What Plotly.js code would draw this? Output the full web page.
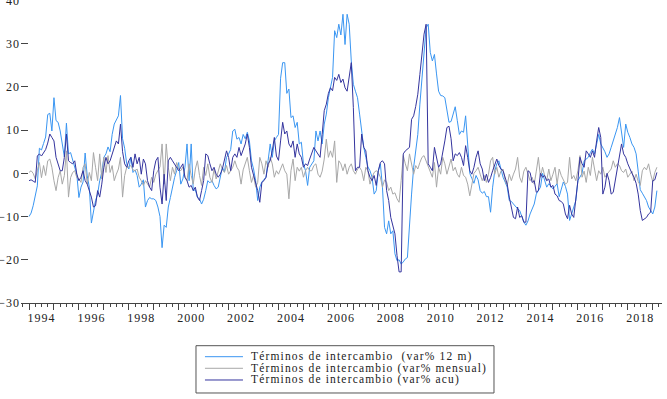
<!DOCTYPE html>
<html>
<head>
<meta charset="utf-8">
<script src="https://cdn.plot.ly/plotly-3.0.1.min.js"></script>
<style>
  html, body { margin: 0; padding: 0; background: #fff; }
  #chart { width: 667px; height: 399px; }
  .ytick text, .xtick text { letter-spacing: 1px; }
  .annotation-text { letter-spacing: 1.17px; white-space: pre; }
</style>
</head>
<body>
<div id="chart"></div>
<script>
// Monthly observations, January 1994 – March 2019
const startYear = 1994;

// Términos de intercambio, variación % 12 meses
const var12m = [
  -10.0, -9.2, -7.5, -5.3, -2.9, 5.8, 5.4, 6.9, 8.4, 13.6, 13.9, 9.8,      // 1994
  17.5, 12.2, 11.8, 9.8, 6.8, 3.8, 11.6, 4.5, 4.8, 2.9, 1.4, -0.3,         // 1995
  -5.6, -3.2, -2.0, 4.7, -0.6, -3.2, -11.5, -8.6, -6.3, -4.8, -1.7, 0.2,   // 1996
  3.7, 4.5, 6.1, 5.0, 9.0, 11.4, 12.2, 13.3, 18.0, 8.0, 5.8, 2.2,          // 1997
  1.0, 3.7, 0.2, 0.8, -0.5, -3.2, -2.5, -1.5, -7.8, -6.3, -5.6, -5.9,      // 1998
  -5.9, -6.3, -7.8, -10.0, -17.2, -12.0, -12.5, -7.8, -5.6, -3.2, -1.0, 0.6, // 1999
  2.5, -2.5, -1.3, 1.4, 6.8, -1.7, 6.8, -4.0, -3.8, -5.5, -5.9, -7.1,      // 2000
  -6.0, -4.0, -1.7, -2.2, -1.7, -2.8, -3.6, -3.2, -0.9, 1.4, 0.3, 3.7,     // 2001
  4.5, 5.5, 9.8, 10.2, 7.9, 8.3, 6.8, 9.0, 8.0, 9.5, 7.5, 2.9,             // 2002
  1.0, -1.7, -6.3, -3.2, -2.0, -1.3, -0.9, 3.0, 6.8, 3.7, 7.5, 8.3,        // 2003
  9.0, 22.0, 25.6, 25.6, 18.5, 19.5, 12.9, 13.3, 10.6, 11.8, 6.8, 7.2,     // 2004
  2.2, 0.6, -2.8, 1.4, 2.2, 2.9, 9.8, 7.5, 9.8, 6.8, 11.4, 13.7,           // 2005
  17.5, 19.8, 22.2, 33.0, 31.4, 34.5, 32.0, 36.8, 29.8, 36.8, 34.5, 26.0,  // 2006
  20.6, 19.0, 17.5, 13.7, 9.0, 6.0, 3.7, 1.5, 0.6, -0.9, -4.8, -4.0,       // 2007
  0.5, 2.2, -3.2, -12.5, -14.0, -11.0, -14.0, -13.3, -18.6, -20.2, -20.0, -21.0, // 2008
  -20.5, -19.8, -19.5, -11.0, -4.8, 1.4, 5.0, 9.0, 16.0, 22.2, 27.5, 33.7, // 2009
  34.5, 28.0, 26.0, 27.5, 23.0, 19.0, 18.0, 17.9, 17.5, 15.0, 11.8, 12.0,  // 2010
  13.7, 15.4, 12.2, 9.0, 9.8, 9.5, 13.3, 6.5, 0.0, -1.2, -2.3, -0.5,       // 2011
  -1.5, -4.0, -4.6, -4.2, -5.4, -5.4, -9.0, -3.2, 0.5, 2.2, 2.9, 1.0,      // 2012
  -0.9, -2.0, -3.2, -6.3, -6.5, -7.1, -7.8, -8.2, -8.6, -10.0, -11.3, -12.0, // 2013
  -11.0, -9.4, -8.0, -7.1, -4.8, -4.0, -3.2, 0.0, -1.5, -3.2, -2.4, -3.0,  // 2014
  -3.6, -3.0, -2.4, -5.4, -3.5, -2.0, -3.0, -4.8, -10.9, -9.4, -8.0, -6.3, // 2015
  -1.7, -0.8, 0.0, 2.9, 3.2, 3.7, 4.8, 5.6, 4.5, 7.0, 9.0, 6.8,            // 2016
  6.0, 5.0, 3.7, 4.5, 6.0, 7.5, 9.0, 10.6, 12.9, 9.0, 6.0, 11.4,           // 2017
  9.5, 8.3, 6.8, 6.0, 4.5, 0.5, -3.8, -4.6, -5.5, -6.3, -7.8, -8.6,        // 2018
  -9.4, -7.8, -4.0                                                         // 2019
];

// Términos de intercambio, variación % mensual
const varMensual = [
  0.2, 0.6, 0.0, -1.3, 0.6, 2.5, -1.0, 1.8, -0.5, 2.9, 3.3, 1.4,           // 1994
  -1.7, -4.0, -1.0, 0.6, -2.5, -0.5, 5.2, -5.5, -1.0, 0.2, 0.6, -1.0,      // 1995
  -1.3, -2.1, 1.4, 2.2, -2.5, 0.2, -1.7, 4.8, 1.4, -1.7, 4.5, -1.3,        // 1996
  3.7, 0.2, 4.1, 0.2, 1.8, -1.7, -0.2, 1.0, 3.7, -5.5, -0.5, 1.4,          // 1997
  1.4, 1.8, 0.8, 0.6, 1.0, -0.9, -1.7, -2.8, -1.7, -2.5, -3.2, -0.9,       // 1998
  -2.1, -0.2, 0.6, 1.5, 6.8, -2.5, 6.8, 1.4, -1.7, 1.4, -0.2, 2.5,         // 1999
  1.0, 0.6, 1.5, -0.9, -1.7, 2.2, -0.5, -2.5, 1.0, 2.9, -0.5, -2.8,        // 2000
  1.4, -0.5, 2.2, -0.9, -2.1, 1.0, -1.3, 0.6, 2.2, 1.0, 0.2, 1.8,          // 2001
  -0.2, 0.6, 1.4, 2.9, 1.4, 0.6, -2.5, 0.8, 2.2, 3.7, 0.6, -2.1,           // 2002
  -0.5, -3.2, -2.1, 3.7, 2.2, -0.2, 2.9, 1.4, 3.7, 2.2, -0.9, 0.6,         // 2003
  -0.2, 1.0, 2.2, 0.6, -0.2, -5.9, 0.6, 3.3, -1.7, 1.4, 0.5, 1.4,          // 2004
  -0.9, 0.6, 1.4, 0.6, 0.6, 1.8, 2.2, -0.2, -0.9, 0.5, 3.3, 7.9,           // 2005
  3.7, 5.2, 3.7, 7.5, -2.1, 2.9, 2.2, 0.6, 2.2, -0.2, 1.4, 2.2,            // 2006
  0.6, -0.2, 1.0, 1.4, 0.6, -1.7, 1.4, 0.6, -2.5, -0.9, 0.2, 0.6,          // 2007
  0.2, -0.9, -3.2, -1.5, -2.1, -4.0, -3.2, -4.8, -4.5, -5.9, -6.7, -1.7,   // 2008
  4.1, 2.2, 0.6, 4.5, 1.8, -0.2, 1.8, 1.0, 2.5, 3.7, 4.1, 2.9,             // 2009
  1.4, 0.6, -0.9, 2.5, -3.2, 1.4, -0.2, 3.7, 2.2, -0.2, 1.4, 3.3,          // 2010
  0.6, 1.4, -0.2, -0.9, 1.4, -0.5, -0.9, -2.5, -5.2, -2.1, 0.0, 0.6,       // 2011
  1.4, -0.2, -1.7, -0.5, -2.1, -0.2, 2.9, 3.7, -0.2, 1.4, -0.9, 0.5,       // 2012
  1.0, -1.7, -2.8, -0.2, -1.7, -0.2, 1.0, 3.7, -0.9, -2.1, 0.5, 1.4,       // 2013
  -0.2, -1.7, -0.9, -2.5, 0.5, 3.7, -0.9, 1.4, -0.5, -1.7, 1.0, -1.7,      // 2014
  -0.2, 1.4, -2.5, 1.0, -0.5, -1.7, -2.5, -2.1, 3.7, -1.3, -0.5, -1.7,     // 2015
  0.6, 4.1, -0.9, 0.5, -2.1, 1.4, -0.5, 3.7, 0.5, -1.7, 0.6, -0.2,         // 2016
  1.4, -0.9, -0.2, 0.5, 1.0, 2.9, 1.4, 2.2, 1.8, 0.6, 0.2, 1.0,            // 2017
  -0.9, -0.2, 0.5, -1.7, -0.2, -1.9, -2.8, 0.6, 1.4, 0.8, 2.2, -0.2,       // 2018
  -1.9, 0.2, 1.4                                                           // 2019
];

// Términos de intercambio, variación % acumulada en el año
const varAcu = [
  -1.7, -1.5, -1.8, -2.1, 4.0, 4.5, 4.0, 4.8, 5.5, 7.0, 9.1, 8.3,          // 1994
  7.5, 3.7, 2.2, 0.6, 0.6, 3.7, 9.1, 2.9, 2.5, 2.2, 2.9, -0.2,             // 1995
  -1.7, -0.9, 0.6, -1.7, -2.5, -4.0, -5.5, -7.8, -7.5, -4.0, -5.5, -2.5,   // 1996
  1.4, 3.7, 2.2, 2.9, 4.5, 6.0, 7.5, 6.8, 11.4, 5.0, 2.2, 1.4,             // 1997
  2.9, 3.7, 1.4, 4.5, 2.2, 3.7, -0.2, 3.3, 2.2, -1.7, -3.2, -4.0,          // 1998
  0.6, 2.9, 3.7, -3.2, -7.1, -0.2, -6.3, 2.9, 3.7, 2.9, 2.2, 1.4,          // 1999
  0.6, 1.4, 2.2, -0.9, -1.7, -3.2, -2.8, -4.0, -3.2, -5.5, -6.3, -4.0,     // 2000
  -1.7, 4.5, 4.1, 2.2, 0.6, 1.4, -0.2, -0.9, -0.2, 1.0, 3.3, 5.2,          // 2001
  3.7, 0.6, 3.7, 4.5, 3.7, 6.0, 4.1, 5.5, 6.8, 9.1, 6.0, 1.4,              // 2002
  -0.5, -1.7, -4.0, -6.7, -2.1, -1.7, -0.9, 2.2, 2.9, 5.2, 8.3, 4.0,       // 2003
  3.0, 7.5, 11.8, 9.1, 9.8, 6.8, 6.0, 7.5, 3.7, 6.8, 4.5, 3.7,             // 2004
  1.4, 2.2, 1.8, 3.3, 4.5, 6.0, 5.2, 4.5, 3.7, 9.0, 14.5, 16.0,            // 2005
  18.5, 19.8, 19.1, 22.2, 21.5, 22.9, 21.0, 21.8, 19.8, 19.0, 22.2, 25.6,  // 2006
  15.2, 0.6, 1.4, 1.4, 9.1, 6.0, 5.2, 0.6, -0.9, -1.7, -0.5, -2.8,         // 2007
  0.6, 2.5, 2.9, 2.2, -4.0, -6.3, -10.2, -12.5, -14.0, -19.0, -22.8, -22.8, // 2008
  4.5, 5.2, 5.6, 6.0, 12.5, 13.3, 15.5, 18.3, 22.9, 28.3, 32.2, 34.5,      // 2009
  2.2, 1.4, 0.6, 6.0, 3.7, 1.4, 2.2, 4.5, 7.5, 10.6, 10.9, 8.0,            // 2010
  2.9, 4.5, 4.1, 4.8, 3.7, 1.8, 6.4, 3.7, 0.6, -0.2, 1.4, 3.7,             // 2011
  5.2, 2.2, 1.0, -1.7, -0.2, -2.1, -1.0, 0.6, 2.2, 3.3, 1.8, 1.0,          // 2012
  0.6, -1.0, -2.5, -5.5, -7.8, -10.2, -10.5, -7.8, -10.2, -9.8, -11.3, -11.3, // 2013
  0.6, 0.2, -2.1, -1.7, -4.4, -4.0, 0.0, -0.9, -0.5, -1.7, -1.3, -3.2,     // 2014
  -2.8, -4.8, -5.2, -6.3, -6.5, -7.1, -9.4, -10.5, -7.4, -9.4, -10.2, -6.3, // 2015
  -1.7, 3.7, 2.2, 1.4, 5.2, 4.5, 3.7, 5.2, 3.7, 7.5, 10.6, 8.3,            // 2016
  -4.8, -3.2, 0.0, -1.7, -4.8, -4.4, -1.7, 1.4, 3.7, 6.8, 4.5, 3.7,        // 2017
  2.2, 1.0, 0.0, -0.9, -2.3, -4.8, -8.6, -10.9, -10.5, -10.2, -9.4, -9.0,  // 2018
  -1.7, -1.5, 0.2                                                          // 2019
];

// Series names
const names = [
  'Términos de intercambio  (var% 12 m)',
  'Términos de intercambio (var% mensual)',
  'Términos de intercambio (var% acu)'
];
const colors = ['#3a96f2', '#a8a8a8', '#34349e'];

// Axis ticks and labels
const yTicks = [-30, -20, -10, 0, 10, 20, 30, 40];
const yearLabels = ['1994', '1996', '1998', '2000', '2002', '2004', '2006',
                    '2008', '2010', '2012', '2014', '2016', '2018'];

// Time index in fractional years (month m of year Y -> Y + (m-1)/12)
const t = var12m.map((_, i) => startYear + i / 12);

// Tick positions: year boundaries, quarter marks, labels centred on each year
const yearStarts = [];
for (let y = 1994; y <= 2019; y++) yearStarts.push(y);
const quarters = [];
for (let y = 1993; y <= 2019; y++) {
  [0.25, 0.5, 0.75].forEach(q => { if (y + q > 1993.68 && y + q < 2019.37) quarters.push(y + q); });
}
const labelPos = yearLabels.map(s => Number(s) + 0.5);

const serif = 'Liberation Serif, Times New Roman, serif';
const xRange = [1993.679, 2019.371];

// 12 m and monthly series on the main x axis; the cumulative series sits on
// the overlaid axis that carries the yearly tick marks (same range), on top.
const series = [var12m, varMensual, varAcu];
const traces = series.map((vals, k) => ({
  x: t,
  y: vals,
  xaxis: k === 2 ? 'x2' : 'x',
  yaxis: 'y',
  type: 'scatter',
  mode: 'lines',
  name: names[k],
  line: { color: colors[k], width: 1 },
  showlegend: false,
  hoverinfo: 'skip'
}));

// Legend drawn as a framed key below the plot (paper coordinates)
const keyBox = { x0: 0.2730, x1: 0.7379, y0: -0.2970, y1: -0.1409 };
const keyRows = [-0.1772, -0.2155, -0.2541];
const shapes = [{
  type: 'rect', xref: 'paper', yref: 'paper',
  x0: keyBox.x0, x1: keyBox.x1, y0: keyBox.y0, y1: keyBox.y1,
  line: { color: '#555', width: 1 }, fillcolor: '#fff'
}];
const annotations = [];
keyRows.forEach((ry, k) => {
  shapes.push({
    type: 'line', xref: 'paper', yref: 'paper',
    x0: 0.2870, x1: 0.3463, y0: ry, y1: ry,
    line: { color: colors[k], width: 1 }
  });
  annotations.push({
    xref: 'paper', yref: 'paper', x: 0.3555, y: ry,
    xanchor: 'left', yanchor: 'middle', showarrow: false,
    text: names[k],
    font: { family: serif, size: 11.5, color: '#222' }
  });
});

const layout = {
  width: 667,
  height: 399,
  margin: { l: 21, r: 5, t: 0, b: 96, pad: 0 },
  paper_bgcolor: '#fff',
  plot_bgcolor: '#fff',
  showlegend: false,
  xaxis: {
    type: 'linear',
    range: xRange,
    showgrid: false,
    zeroline: false,
    showline: true,
    linecolor: '#444',
    linewidth: 1,
    ticks: '',
    tickmode: 'array',
    tickvals: labelPos,
    ticktext: yearLabels,
    tickfont: { family: serif, size: 12, color: '#222' },
    ticklabelstandoff: 4,
    minor: {
      tickmode: 'array',
      tickvals: quarters,
      ticks: 'outside',
      ticklen: 3,
      tickwidth: 1,
      tickcolor: '#444',
      showgrid: false
    },
    fixedrange: true,
    automargin: false
  },
  xaxis2: {
    type: 'linear',
    overlaying: 'x',
    anchor: 'y',
    side: 'bottom',
    range: xRange,
    showgrid: false,
    zeroline: false,
    showline: false,
    ticks: 'outside',
    tickmode: 'array',
    tickvals: yearStarts,
    ticklen: 6,
    tickwidth: 1,
    tickcolor: '#444',
    showticklabels: false,
    fixedrange: true,
    automargin: false
  },
  yaxis: {
    range: [-30, 40.1],
    showgrid: false,
    zeroline: false,
    showline: false,
    ticks: 'inside',
    tickmode: 'array',
    tickvals: yTicks,
    ticklen: 7,
    tickwidth: 1,
    tickcolor: '#444',
    tickfont: { family: serif, size: 12, color: '#222' },
    ticklabeloverflow: 'allow',
    fixedrange: true,
    automargin: false
  },
  shapes: shapes,
  annotations: annotations
};

Plotly.newPlot('chart', traces, layout, { displayModeBar: false, staticPlot: true });
</script>
</body>
</html>
